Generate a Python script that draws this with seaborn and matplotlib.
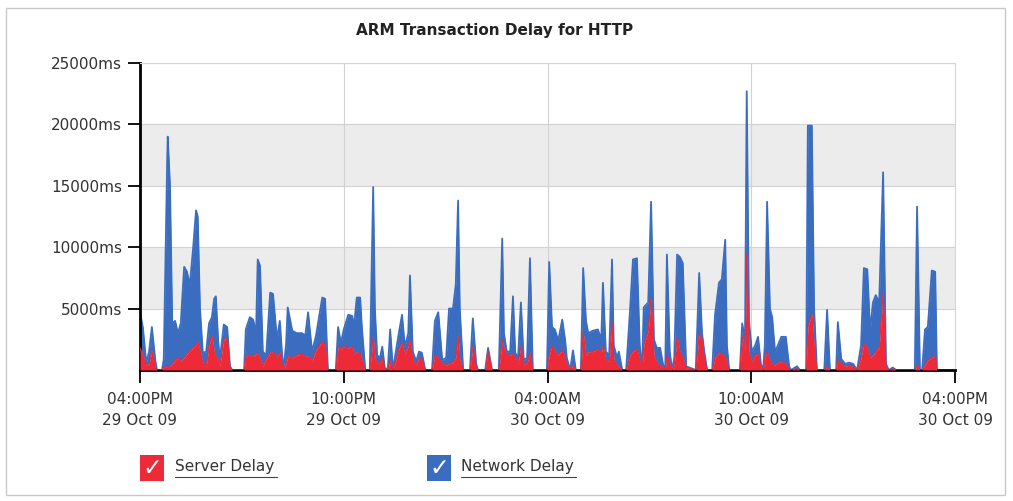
import pandas as pd
import matplotlib.pyplot as plt
from matplotlib.patches import Rectangle
from matplotlib.lines import Line2D
import seaborn as sns

# Sample times, minutes after 04:00PM 29 Oct 09
minutes = [
    0, 5, 11, 16, 21, 27, 30, 39, 42, 48, 49, 53, 57, 62, 67, 72, 78, 83, 88, 94,
    99, 102, 106, 111, 117, 122, 127, 131, 134, 138, 141, 148, 154, 159, 163, 184, 187, 194, 200, 205,
    208, 212, 217, 223, 230, 235, 242, 247, 253, 258, 261, 269, 277, 286, 292, 297, 304, 311, 322, 327,
    332, 346, 350, 355, 360, 368, 375, 378, 383, 389, 392, 398, 406, 412, 415, 419, 424, 428, 433, 438,
    442, 447, 452, 458, 463, 468, 474, 477, 482, 488, 493, 498, 504, 516, 521, 527, 534, 541, 546, 553,
    558, 562, 565, 571, 583, 588, 594, 597, 610, 615, 622, 634, 640, 643, 648, 654, 659, 663, 668, 673,
    678, 684, 689, 694, 719, 723, 728, 733, 739, 746, 751, 754, 760, 765, 770, 779, 783, 788, 792, 800,
    809, 815, 818, 823, 829, 834, 837, 843, 846, 852, 859, 866, 871, 878, 883, 887, 890, 898, 903, 908,
    913, 919, 924, 928, 931, 936, 940, 944, 949, 954, 959, 965, 982, 988, 993, 997, 1002, 1011, 1016, 1023,
    1028, 1034, 1037, 1041, 1060, 1064, 1069, 1072, 1076, 1081, 1087, 1092, 1097, 1101, 1104, 1108, 1113, 1117, 1122, 1127,
    1133, 1141, 1147, 1150, 1161, 1166, 1177, 1180, 1187, 1191, 1196, 1209, 1214, 1219, 1230, 1233, 1239, 1246, 1253, 1260,
    1267, 1274, 1279, 1285, 1290, 1295, 1300, 1306, 1313, 1318, 1323, 1330, 1336, 1369, 1373, 1378, 1382, 1387, 1392, 1399,
    1405, 1408,
]

server_delay = [
    1800, 1200, 400, 500, 1600, 300, 0, 0, 300, 200, 300, 300, 500, 800, 1000, 700, 1000, 1300, 1600, 1800,
    2000, 2300, 1600, 600, 300, 2000, 2800, 1500, 1200, 800, 300, 2500, 2600, 200, 0, 0, 1200, 1200, 1100, 1300,
    1400, 1000, 300, 900, 1400, 1500, 1000, 1500, 0, 500, 1100, 1000, 1200, 1300, 1100, 1200, 700, 1600, 2300, 2000,
    0, 0, 1900, 1700, 1900, 1800, 1900, 1300, 1500, 1300, 800, 0, 0, 2700, 1000, 600, 500, 1000, 0, 100,
    800, 0, 800, 1800, 2200, 1200, 2000, 2400, 800, 400, 1000, 800, 0, 0, 1200, 1000, 500, 400, 500, 600,
    1000, 2800, 800, 0, 0, 1900, 300, 0, 0, 1500, 0, 0, 2400, 1800, 1200, 1200, 1300, 1000, 500, 2000,
    400, 600, 1400, 0, 0, 1200, 2000, 1500, 1200, 1600, 1000, 500, 0, 400, 0, 0, 3100, 1200, 1500, 1500,
    1700, 1400, 2000, 800, 700, 3900, 900, 400, 300, 0, 0, 1200, 1500, 1700, 800, 0, 2000, 3200, 5900, 1200,
    600, 400, 200, 0, 1200, 500, 0, 500, 2700, 1500, 1000, 200, 0, 3000, 2400, 1000, 0, 0, 1000, 1400,
    1300, 1100, 600, 0, 0, 2700, 1600, 9500, 1500, 600, 1200, 1300, 200, 0, 1000, 1500, 800, 500, 400, 600,
    700, 500, 100, 0, 100, 0, 0, 3500, 4600, 2000, 0, 0, 300, 0, 0, 800, 500, 300, 400, 300,
    0, 1000, 2200, 1800, 1000, 1200, 1500, 1800, 6300, 200, 0, 100, 0, 0, 400, 0, 0, 400, 800, 1000,
    1200, 0,
]

network_delay = [
    2900, 2300, 200, 1000, 1900, 500, 0, 0, 600, 16800, 18700, 14700, 3300, 3200, 2000, 3100, 7400, 6700, 5300, 8200,
    11000, 10200, 3400, 800, 1200, 1800, 1500, 4300, 4800, 1700, 500, 1200, 900, 100, 0, 0, 2100, 3100, 3000, 1700,
    7600, 7500, 1200, 300, 4900, 4700, 1500, 2500, 0, 1500, 4000, 2200, 1800, 1700, 1700, 3500, 800, 1200, 3600, 3800,
    0, 0, 1600, 500, 1400, 2700, 2500, 2200, 4400, 4600, 2700, 0, 0, 12200, 4000, 600, 500, 900, 0, 100,
    2500, 0, 700, 1400, 2300, 700, 1000, 5300, 700, 300, 500, 600, 0, 0, 2800, 3700, 300, 600, 4500, 4400,
    6000, 11000, 4200, 0, 0, 2300, 200, 0, 0, 300, 0, 0, 8300, 1200, 300, 300, 4700, 400, 500, 3500,
    400, 400, 7700, 0, 0, 7600, 1500, 1800, 1200, 2500, 1500, 500, 0, 1200, 0, 0, 5200, 2800, 1500, 1700,
    1600, 1100, 5100, 700, 500, 5100, 1100, 600, 1200, 0, 0, 3800, 7500, 7400, 1200, 0, 3100, 2300, 7800, 1300,
    1200, 1400, 300, 0, 8200, 1000, 0, 500, 6700, 7700, 7700, 100, 0, 4900, 600, 500, 0, 0, 3500, 5700,
    6100, 9500, 1400, 0, 0, 1100, 900, 13200, 2500, 900, 800, 1400, 300, 0, 1000, 12200, 4200, 3800, 1100, 1400,
    2000, 2200, 200, 0, 200, 0, 0, 16400, 15300, 3000, 0, 0, 4600, 0, 0, 3100, 400, 200, 200, 200,
    0, 1000, 6100, 6400, 2200, 4300, 4600, 3700, 9800, 300, 0, 100, 0, 0, 12900, 0, 0, 2900, 2700, 7100,
    6800, 0,
]

y_ticks = [5000, 10000, 15000, 20000, 25000]
tick_labels = ['04:00PM\n29 Oct 09', '10:00PM\n29 Oct 09', '04:00AM\n30 Oct 09',
               '10:00AM\n30 Oct 09', '04:00PM\n30 Oct 09']

RED = '#ee2a38'
BLUE = '#3a6dc0'

sns.set_style('white')
plt.rcParams['font.family'] = ['DejaVu Sans']

start = pd.Timestamp('2009-10-29 16:00')
df = pd.DataFrame({
    'time': start + pd.to_timedelta(minutes, unit='m'),
    'server': server_delay,
    'network': network_delay,
})
df['total'] = df['server'] + df['network']

fig = plt.figure(figsize=(10.13, 5.01), dpi=100)
ax = fig.add_axes([140 / 1013, 131 / 501, 815 / 1013, 307 / 501])

# alternating bands and grid
ax.axhspan(5000, 10000, color='#ececec', zorder=0, lw=0)
ax.axhspan(15000, 20000, color='#ececec', zorder=0, lw=0)
ax.grid(True, color='#d2d2d2', lw=0.8)
ax.set_axisbelow(True)

# stacked areas
ax.fill_between(df['time'], df['server'], df['total'], color=BLUE, lw=0, zorder=2)
ax.fill_between(df['time'], 0, df['server'], color=RED, lw=0, zorder=3)
sns.lineplot(data=df, x='time', y='total', color=BLUE, lw=1.3, ax=ax, zorder=2)
sns.lineplot(data=df, x='time', y='server', color=RED, lw=0.8, ax=ax, zorder=3)

ticks = pd.date_range(start, periods=5, freq='6h')
ax.set_xlim(ticks[0], ticks[-1])
ax.set_xticks(ticks)
ax.set_xticklabels(tick_labels)
for lab in ax.get_xticklabels():
    lab.set_linespacing(1.45)
ax.set_ylim(0, 25000)
ax.set_yticks(y_ticks)
ax.set_yticklabels([f'{v}ms' for v in y_ticks])
ax.set_xlabel('')
ax.set_ylabel('')

ax.tick_params(axis='y', direction='out', length=9, width=1.3, color='black',
               labelsize=11, labelcolor='#333333', pad=4, left=True)
ax.tick_params(axis='x', direction='out', length=9, width=1.3, color='black',
               labelsize=11, labelcolor='#333333', pad=7, bottom=True)

for side in ['left', 'bottom']:
    ax.spines[side].set_color('black')
    ax.spines[side].set_linewidth(2)
for side in ['top', 'right']:
    ax.spines[side].set_color('#d6d6d6')
    ax.spines[side].set_linewidth(0.8)

fig.text(495 / 1013, 1 - 30 / 501, 'ARM Transaction Delay for HTTP',
         ha='center', va='center', fontsize=11, fontweight='bold', color='#222222')

# outer frame
fig.patches.append(Rectangle((6 / 1013, 6 / 501), 999 / 1013, 487 / 501, fill=False,
                             edgecolor='#c8c8c8', lw=1, transform=fig.transFigure))

# legend with check boxes
legend_items = [('Server Delay', RED, 140, 175, 277), ('Network Delay', BLUE, 427, 461, 576)]
for name, col, bx, tx, tend in legend_items:
    fig.patches.append(Rectangle((bx / 1013, (501 - 481) / 501), 24 / 1013, 26 / 501,
                                 facecolor=col, edgecolor='none', transform=fig.transFigure))
    fig.text((bx + 12) / 1013, 1 - 468 / 501, '\u2713', ha='center', va='center',
             fontsize=17, color='white')
    fig.text(tx / 1013, 1 - 467 / 501, name, ha='left', va='center', fontsize=11, color='#333333')
    fig.lines.append(Line2D([tx / 1013, tend / 1013], [1 - 477 / 501] * 2, color='#444444',
                            lw=0.8, transform=fig.transFigure))

fig.savefig('out.png', dpi=100)
